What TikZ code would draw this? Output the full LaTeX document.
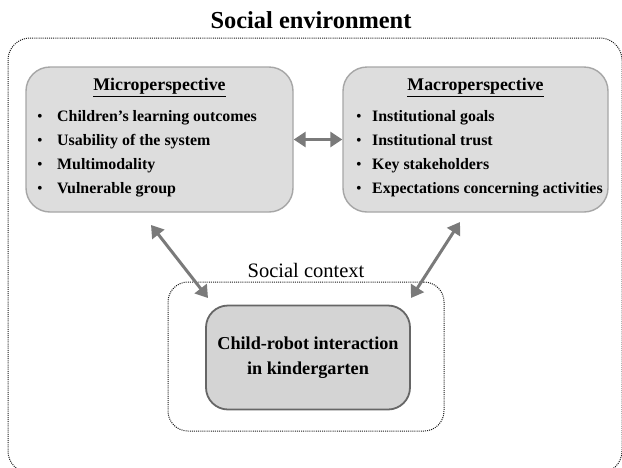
\documentclass[tikz,border=0pt]{standalone}
\usepackage{fontspec}
\setmainfont{Liberation Serif}
\usetikzlibrary{arrows.meta,positioning}

\definecolor{perspfill}{HTML}{DDDDDD}
\definecolor{perspedge}{HTML}{A6A6A6}
\definecolor{corefill}{HTML}{D4D4D4}
\definecolor{coreedge}{HTML}{666666}
\definecolor{arrgray}{HTML}{7A7A7A}

\newcommand{\itembul}[1]{\makebox[#1][l]{\mdseries\textbullet}}

\begin{document}
\begin{tikzpicture}[
  x=1pt, y=-1pt,
  persp/.style={draw=perspedge, line width=1.4pt, fill=perspfill, rounded corners=24pt, minimum height=145pt},
  core/.style={draw=coreedge, line width=1.8pt, fill=corefill, rounded corners=22pt, minimum width=204pt, minimum height=104pt, align=center, font=\fontsize{18.2}{25}\selectfont\bfseries},
  frame/.style={draw=black!90, line width=1pt, dash pattern=on 1pt off 1.1pt},
  head/.style={font=\fontsize{17.8}{20}\selectfont\bfseries, inner sep=0pt},
  items/.style={font=\fontsize{15.9}{24}\selectfont\bfseries, align=left, inner sep=0pt},
  arr/.style={{Triangle[length=12pt,width=15pt]}-{Triangle[length=12pt,width=15pt]}, draw=arrgray, fill=arrgray, line width=3pt}
]
\useasboundingbox (0,0) rectangle (622,467);

% outer frame, its lower edge just below the page
\draw[frame, rounded corners=22pt] (8,38) rectangle (622,473);
\node[font=\fontsize{24.4}{28}\selectfont\bfseries] (envtitle) at (311,20) {Social environment};

% the two perspectives
\node[persp, minimum width=267pt] (micro) at (159.5,139.5) {};
\node[persp, minimum width=265pt] (macro) at (475.5,139.5) {};

\node[head, below=12pt of micro.north] (microhead) {\underline{Microperspective}};
\node[items, anchor=north west] (microlist) at (37,110) {%
  \itembul{20pt}Children’s learning outcomes\\
  \itembul{20pt}Usability of the system\\
  \itembul{20pt}Multimodality\\
  \itembul{20pt}Vulnerable group};

\node[head, below=12pt of macro.north] (macrohead) {\underline{Macroperspective}};
\node[items, anchor=north west] (macrolist) at (356,110) {%
  \itembul{16pt}Institutional goals\\
  \itembul{16pt}Institutional trust\\
  \itembul{16pt}Key stakeholders\\
  \itembul{16pt}Expectations concerning activities};

% social context around the interaction
\node[frame, rounded corners=20pt, minimum width=276pt, minimum height=149pt] (context) at (306,356.5) {};
\node[font=\fontsize{20.5}{23}\selectfont, above=0pt of context.north] (contextlbl) {Social context};
\node[core] (cri) at (308,357.5) {Child-robot interaction\\in kindergarten};

% links
\coordinate (microend) at (151,225);
\coordinate (microctx) at (208,298);
\coordinate (macroend) at (460,222);
\coordinate (macroctx) at (411,298);

\draw[arr] (micro.east) -- (macro.west);
\draw[arr] (microend) -- (microctx);
\draw[arr] (macroend) -- (macroctx);
\end{tikzpicture}
\end{document}
